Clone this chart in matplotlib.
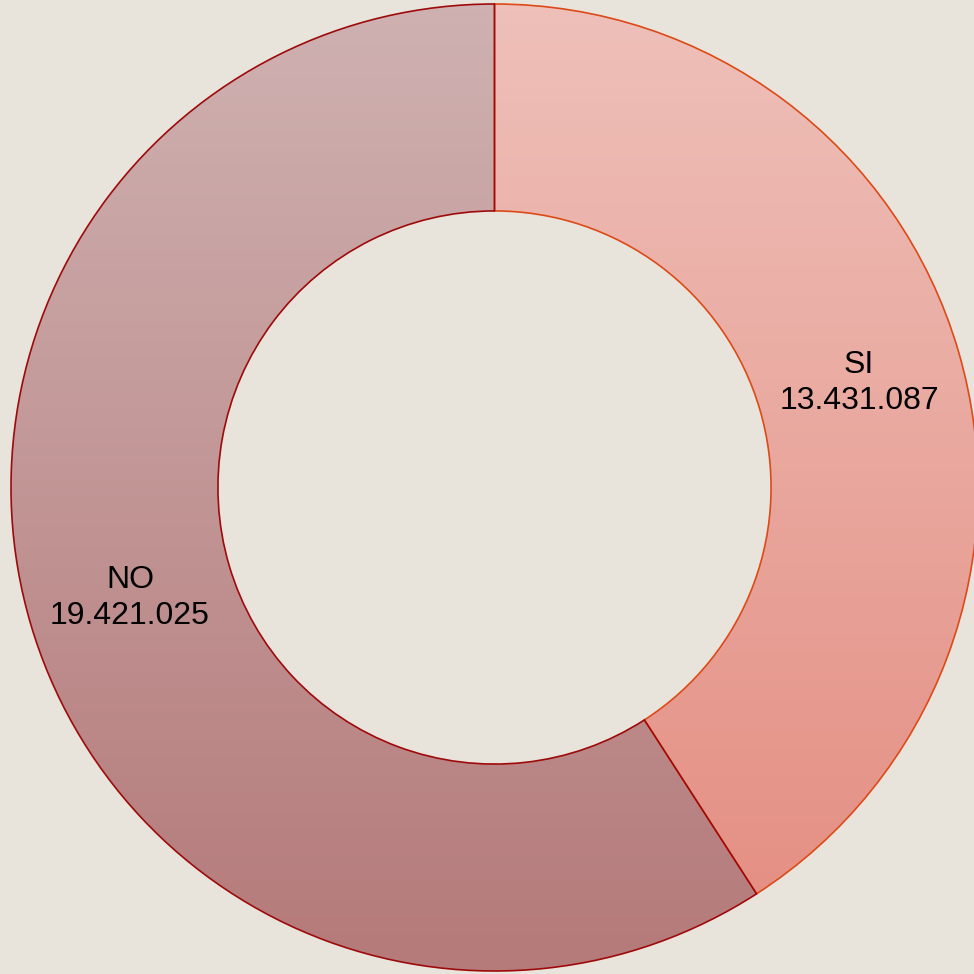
import numpy as np
import matplotlib
matplotlib.use("Agg")
import matplotlib.pyplot as plt
from matplotlib.patches import Wedge
from matplotlib.colors import LinearSegmentedColormap

# data
labels = ["SI", "NO"]
values = [13431087, 19421025]
value_text = ["13.431.087", "19.421.025"]

# gradient colours (top -> bottom) and outline per slice
top_colors = ["#EEC0B9", "#CFB1B1"]
bottom_colors = ["#E48C80", "#B57A7A"]
edge_colors = ["#DC4A18", "#9E0A0A"]

bg = "#E8E4DC"
inner = 0.572

fig = plt.figure(figsize=(9.74, 9.74), dpi=100, facecolor=bg)
ax = fig.add_axes([0, 0, 1, 1])
ax.set_facecolor(bg)
R = 483.5
cx, cy = 494.5, 487.5
ax.set_xlim(-cx / R, (974 - cx) / R)
ax.set_ylim(-(974 - cy) / R, cy / R)
ax.set_aspect("equal")
ax.axis("off")

total = sum(values)
start = 90.0
grad = np.linspace(0, 1, 256).reshape(-1, 1)
wedges = []
for i, v in enumerate(values):
    sweep = 360.0 * v / total
    end = start - sweep
    w = Wedge((0, 0), 1, end, start, width=1 - inner, facecolor="none",
              edgecolor=edge_colors[i], linewidth=1.2, zorder=3)
    ax.add_patch(w)
    cmap = LinearSegmentedColormap.from_list("g%d" % i, [bottom_colors[i], top_colors[i]])
    im = ax.imshow(grad, cmap=cmap, extent=[-1, 1, -1, 1], origin="lower",
                   aspect="auto", zorder=1, interpolation="bilinear")
    im.set_clip_path(w)
    mid = np.deg2rad((start + end) / 2)
    r = (1 + inner) / 2
    ax.text(r * np.cos(mid), r * np.sin(mid) - 0.006, labels[i] + "\n" + value_text[i],
            ha="center", va="center", fontsize=23, family="Liberation Sans",
            linespacing=1.25, zorder=4)
    wedges.append(w)
    start = end

# keep the darker outline on top along the shared edges
wedges[1].set_zorder(3.5)

fig.savefig("out.png", dpi=100, facecolor=bg)
